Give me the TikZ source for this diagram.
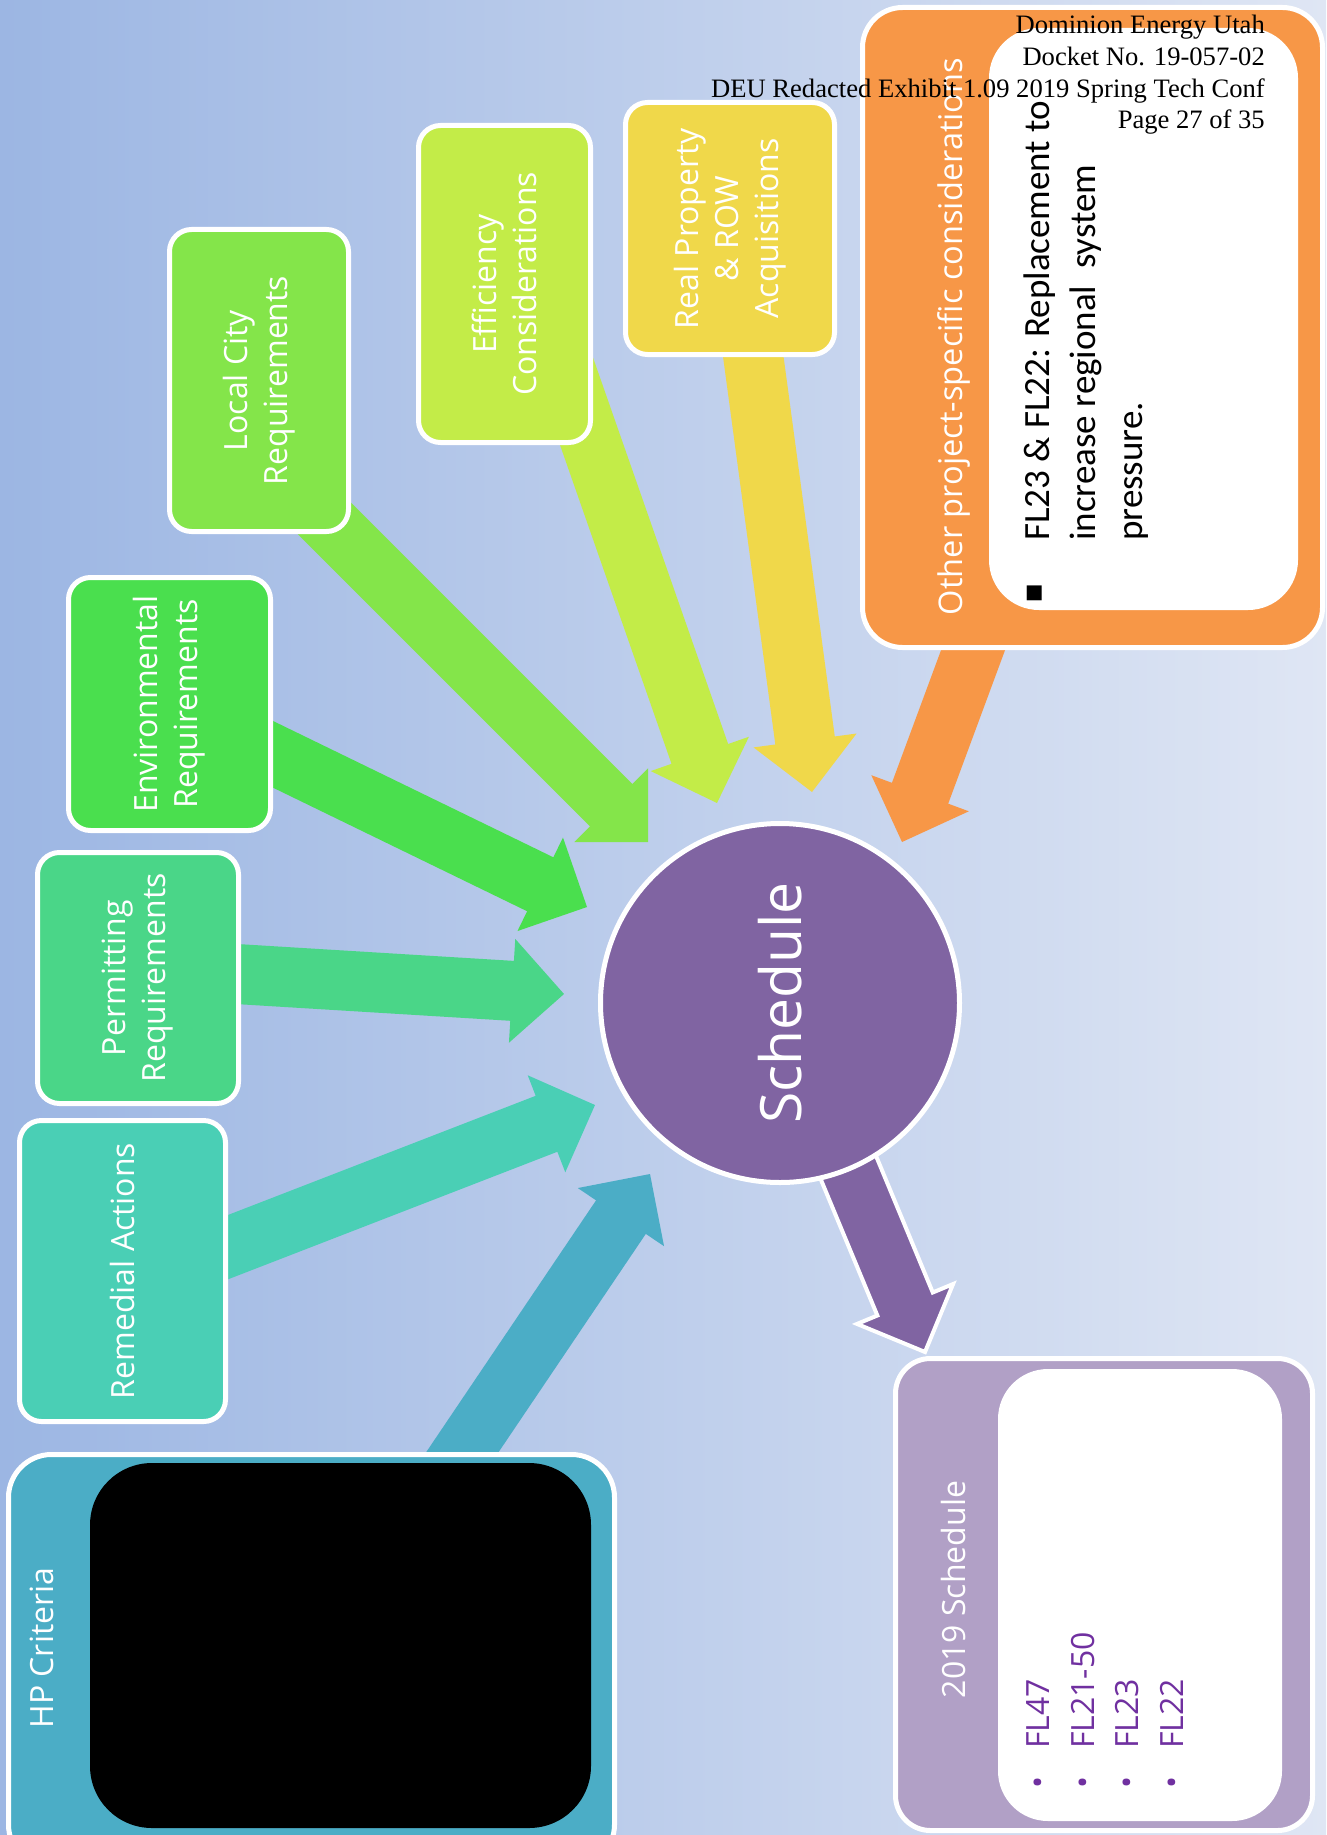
\documentclass[tikz,border=0pt]{standalone}
\usepackage{fontspec}
\setmainfont{Open Sans}
\newfontfamily\notefont{Carlito}
\newfontfamily\hdrfont{Liberation Serif}
\newfontfamily\symfont{DejaVu Sans}
\usetikzlibrary{calc,positioning}
\pgfdeclarelayer{back}
\pgfsetlayers{back,main}

\definecolor{bgL}{HTML}{9CB6E3}
\definecolor{bgR}{HTML}{DFE6F4}
\definecolor{cLoc}{HTML}{84E54A}
\definecolor{cEff}{HTML}{C3EC48}
\definecolor{cReal}{HTML}{F0D84A}
\definecolor{cOth}{HTML}{F79747}
\definecolor{cEnv}{HTML}{4ADF4E}
\definecolor{cPer}{HTML}{4AD688}
\definecolor{cRem}{HTML}{4ACFB5}
\definecolor{cHP}{HTML}{4BADC6}
\definecolor{cSch}{HTML}{8064A2}
\definecolor{cSchL}{HTML}{B1A0C6}
\definecolor{cItem}{HTML}{7030A0}

% block arrow: start, tip, style
\newcommand{\blkarrow}[3]{%
  \path (#1) coordinate (ba-s);
  \path (#2) coordinate (ba-t);
  \path ($(ba-t)!52pt!(ba-s)$) coordinate (ba-b);
  \path[#3] ($(ba-s)!30pt!90:(ba-t)$) -- ($(ba-b)!30pt!90:(ba-t)$)
    -- ($(ba-b)!52pt!90:(ba-t)$) -- (ba-t)
    -- ($(ba-b)!52pt!-90:(ba-t)$) -- ($(ba-b)!30pt!-90:(ba-t)$)
    -- ($(ba-s)!30pt!-90:(ba-t)$) -- cycle;}

\tikzset{
  box/.style={rectangle, rounded corners=22pt, draw=white, line width=5pt, fill=#1,
    text=white, align=center, rotate=90, inner sep=0pt, font=\fontsize{32}{40}\selectfont},
  panel/.style={rectangle, draw=white, line width=5pt, fill=#1, inner sep=0pt},
  pane/.style={rectangle, fill=#1, inner sep=0pt},
  ttl/.style={rotate=90, anchor=base, text=white, inner sep=0pt, font=\fontsize{32}{40}\selectfont},
  hub/.style={circle, fill=cSch, draw=white, line width=5pt, inner sep=0pt,
    minimum size=359pt, text=white, rotate=90, font=\fontsize{57}{60}\selectfont},
}

\begin{document}
\begin{tikzpicture}[x=1pt,y=-1pt]
\useasboundingbox (0,0) rectangle (1326,1835);
\clip (0,0) rectangle (1326,1835);

% input boxes
\node[box=cLoc, minimum width=302pt, minimum height=179pt] (loc) at (259,380.5) {Local City\\Requirements};
\node[box=cEff, minimum width=317pt, minimum height=172pt] (eff) at (504.5,284) {Efficiency\\Considerations};
\node[box=cReal, minimum width=252pt, minimum height=209pt] (real) at (730,228.5) {Real Property\\\& ROW\\Acquisitions};
\node[box=cEnv, minimum width=253pt, minimum height=202pt] (env) at (169.5,704) {Environmental\\Requirements};
\node[box=cPer, minimum width=251pt, minimum height=201pt] (per) at (138,978) {Permitting\\Requirements};
\node[box=cRem, minimum width=301pt, minimum height=206pt] (rem) at (122.5,1271) {Remedial Actions};

% other considerations
\node[panel=cOth, rounded corners=40pt, minimum width=460pt, minimum height=640pt] (other) at (1092.5,327.5) {};
\node[pane=white, rounded corners=50pt, minimum width=309pt, minimum height=582pt] (otherin) at (1143.5,319) {};
\node[ttl, font=\fontsize{32.6}{40}\selectfont] (otherT) at (962,336.5) {Other project-specific considerations};
\node[rotate=90, inner sep=0pt, font=\symfont\fontsize{30}{30}\selectfont] (otherB) at (1035,593) {▪};
\node[rotate=90, anchor=west, align=left, inner sep=0pt, font=\notefont\fontsize{37}{46.5}\selectfont] (otherL) at (1086,541)
  {FL23 \& FL22: Replacement to\\increase regional\ \ system\\pressure.};

% HP criteria
\node[panel=cHP, rounded corners=43pt, minimum width=606pt, minimum height=413pt] (hp) at (311.5,1661) {};
\node[pane=black, rounded corners=62pt, minimum width=501pt, minimum height=365pt] (hpin) at (340.5,1645.5) {};
\node[ttl] (hpT) at (53,1648) {HP Criteria};

% 2019 schedule
\node[panel=cSchL, rounded corners=35pt, minimum width=417pt, minimum height=472pt] (sch19) at (1104,1594.5) {};
\node[pane=white, rounded corners=50pt, minimum width=284pt, minimum height=452pt] (sch19in) at (1140,1595) {};
\node[ttl] (sch19T) at (965,1589.5) {2019 Schedule};
\node[rotate=90, anchor=west, align=left, inner sep=0pt, text=cItem, font=\fontsize{32}{44.8}\selectfont] (sch19L) at (1105,1789)
  {•\hspace{28pt}FL47\\•\hspace{28pt}FL21-50\\•\hspace{28pt}FL23\\•\hspace{28pt}FL22};

\node[hub] (sched) at (780,1003) {Schedule};

\begin{pgfonlayer}{back}
\shade[left color=bgL, right color=bgR] (0,0) rectangle (1326,1835);
\coordinate (tLoc) at (648,842);
\coordinate (tEff) at (717,803);
\coordinate (tReal) at (812,792);
\coordinate (tOth) at (902,842);
\coordinate (tEnv) at (587,907);
\coordinate (tPer) at (564,994);
\coordinate (tRem) at (595,1105);
\coordinate (tHP) at (650,1174);
\coordinate (tOut) at (925,1352);
\blkarrow{[shift={(0,72.5)}]loc.center}{tLoc}{fill=cLoc}
\blkarrow{[shift={(31,0)}]eff.center}{tEff}{fill=cEff}
\blkarrow{[shift={(6,0)}]real.center}{tReal}{fill=cReal}
\blkarrow{other.center}{tOth}{fill=cOth}
\blkarrow{env.center}{tEnv}{fill=cEnv}
\blkarrow{[shift={(0,-10)}]per.center}{tPer}{fill=cPer}
\blkarrow{[shift={(0,17)}]rem.center}{tRem}{fill=cRem}
\blkarrow{[shift={(10,0)}]hp.center}{tHP}{fill=cHP}
\blkarrow{sched.center}{tOut}{fill=cSch, draw=white, line width=4pt}
\end{pgfonlayer}

\node[anchor=north east, align=right, inner sep=0pt, font=\hdrfont\fontsize{26.6}{31.7}\selectfont] (hdr) at (1265,15.1)
  {Dominion Energy Utah\\Docket No. 19-057-02\\DEU Redacted Exhibit 1.09 2019 Spring Tech Conf\\Page 27 of 35};
\end{tikzpicture}
\end{document}
